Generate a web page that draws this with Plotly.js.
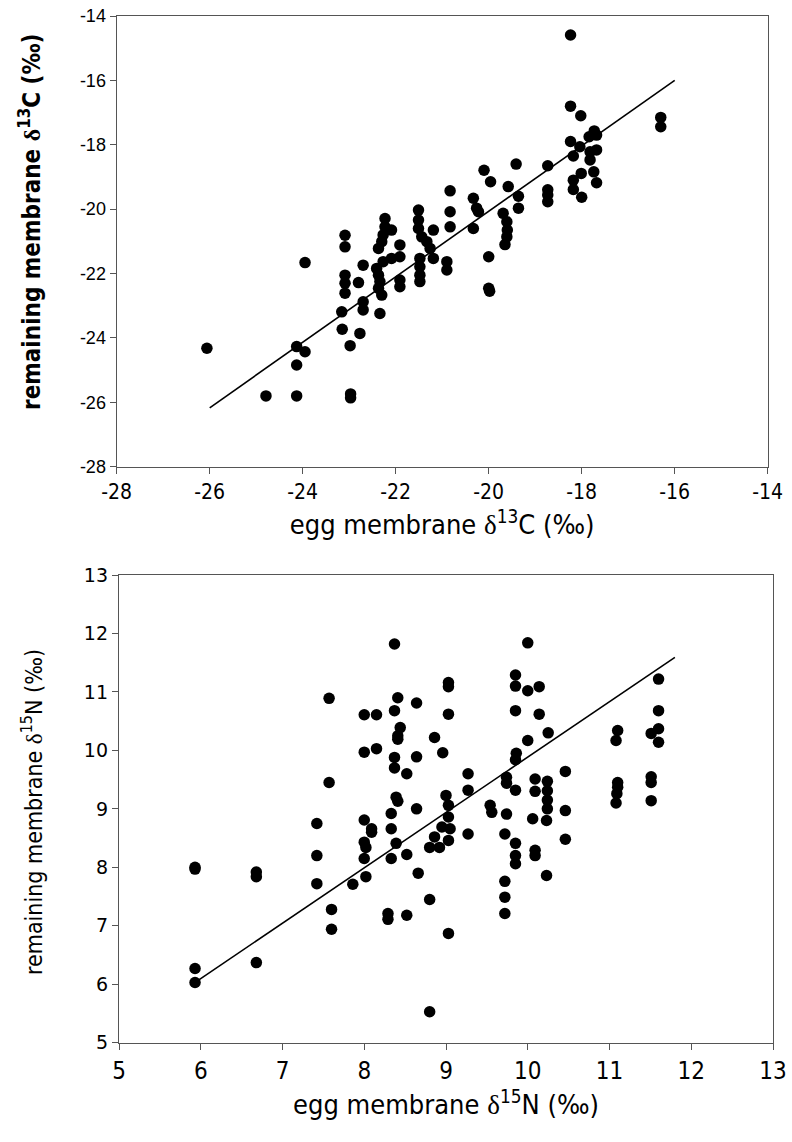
<!DOCTYPE html>
<html>
<head>
<meta charset="utf-8">
<script src="https://cdn.plot.ly/plotly-3.0.1.min.js"></script>
<style>html,body{margin:0;padding:0;background:#fff;}#chart{width:792px;height:1142px;}</style>
</head>
<body>
<div id="chart"></div>
<script>
// ---- Panel 1: delta 13C ----
const eggC = [-26.06,-24.79,-24.13,-24.13,-24.13,-23.95,-23.95,-23.09,-23.09,-23.09,-23.09,-23.09,-23.16,-23.15,-22.97,-22.97,-22.98,-22.77,-22.80,-22.70,-22.70,-22.70,-22.34,-22.37,-22.30,-22.34,-22.37,-22.41,-22.27,-22.09,-22.37,-22.30,-22.27,-22.09,-22.23,-22.23,-21.91,-21.91,-21.91,-21.91,-21.51,-21.51,-21.51,-21.44,-21.19,-21.33,-21.26,-21.48,-21.19,-21.48,-21.48,-21.48,-20.90,-20.90,-20.83,-20.83,-20.83,-20.33,-20.26,-20.22,-20.33,-20.00,-20.00,-19.98,-20.10,-19.96,-19.41,-19.58,-19.36,-19.36,-19.69,-19.61,-19.60,-19.61,-19.65,-18.73,-18.73,-18.73,-18.73,-18.24,-18.24,-18.02,-17.73,-17.84,-17.68,-18.24,-18.04,-18.18,-17.82,-17.68,-17.82,-18.01,-17.74,-17.68,-18.18,-18.18,-18.00,-16.30,-16.30];
const remC = [-24.32,-25.80,-25.80,-24.27,-24.84,-24.43,-21.66,-20.81,-21.17,-22.05,-22.30,-22.61,-23.19,-23.73,-25.74,-25.86,-24.24,-23.86,-22.28,-21.74,-22.88,-23.13,-23.24,-22.46,-22.67,-22.25,-22.05,-21.84,-21.63,-21.53,-21.22,-21.01,-20.80,-20.65,-20.55,-20.29,-21.11,-21.48,-22.20,-22.41,-20.03,-20.34,-20.60,-20.86,-20.65,-21.01,-21.22,-21.53,-21.53,-21.79,-22.05,-22.25,-21.63,-21.89,-20.08,-20.55,-19.43,-19.66,-19.97,-20.08,-20.60,-21.48,-22.46,-22.55,-18.79,-19.15,-18.60,-19.30,-19.60,-19.97,-20.13,-20.39,-20.65,-20.86,-21.10,-18.65,-19.40,-19.56,-19.77,-14.59,-16.80,-17.10,-17.57,-17.75,-17.70,-17.90,-18.06,-18.35,-18.22,-18.16,-18.47,-18.89,-18.84,-19.18,-19.10,-19.39,-19.63,-17.15,-17.44];
const fitC_x = [-26.0, -16.0];
const fitC_y = [-26.17, -16.0];
const ticksC = [-28,-26,-24,-22,-20,-18,-16,-14];

// ---- Panel 2: delta 15N ----
const eggN = [5.93,5.93,5.93,5.93,6.68,6.68,6.68,7.42,7.42,7.42,7.60,7.60,7.57,7.57,7.86,8.00,8.15,8.00,8.15,8.00,8.09,8.09,8.00,8.02,8.00,8.02,8.29,8.29,8.33,8.33,8.39,8.33,8.37,8.41,8.37,8.44,8.41,8.41,8.37,8.37,8.39,8.41,8.52,8.52,8.52,8.64,8.64,8.64,8.66,8.80,8.80,8.86,8.96,9.03,9.03,9.03,9.00,9.03,9.03,8.95,9.05,8.86,9.03,8.80,8.92,9.03,9.27,9.27,9.27,9.54,9.56,9.74,9.74,9.74,9.72,9.72,9.72,9.72,9.85,9.85,9.85,9.86,9.85,9.85,9.85,9.85,9.85,10.00,10.00,10.14,10.14,10.00,10.25,10.09,10.09,10.06,10.09,10.09,10.24,10.24,10.24,10.24,10.23,10.23,10.46,10.46,10.46,11.10,11.08,11.10,11.10,11.09,11.08,11.60,11.60,11.60,11.51,11.60,11.51,11.51,11.51];
const remN = [8.00,7.97,6.27,6.03,7.92,7.84,6.37,8.75,8.20,7.72,7.28,6.94,10.89,9.45,7.71,10.61,10.61,9.97,10.03,8.81,8.66,8.60,8.43,8.34,8.15,7.84,7.21,7.11,8.92,8.66,8.41,8.15,11.82,10.90,10.68,10.39,10.25,10.19,9.88,9.70,9.20,9.13,9.60,8.22,7.18,10.81,9.89,9.00,7.90,7.45,5.53,10.22,9.96,11.16,11.09,10.62,9.23,9.06,8.86,8.69,8.66,8.52,8.46,8.34,8.34,6.87,9.60,9.32,8.57,9.06,8.94,9.54,9.44,8.91,8.57,7.76,7.49,7.21,11.29,11.10,10.68,9.95,9.84,9.32,8.41,8.20,8.06,11.84,11.02,11.09,10.62,10.17,10.30,9.51,9.30,8.83,8.29,8.20,9.47,9.31,9.15,9.00,8.80,7.86,9.64,8.97,8.48,10.34,10.17,9.45,9.37,9.26,9.10,11.22,10.68,10.37,10.29,10.14,9.55,9.45,9.14];
const fitN_x = [5.95, 11.8];
const fitN_y = [6.05, 11.59];
const ticksN = [5,6,7,8,9,10,11,12,13];

const NARROW = 'Liberation Sans Narrow, Arial Narrow, DejaVu Sans Condensed, Liberation Sans, sans-serif';
const D = '<span style="font-family:Liberation Serif, serif">δ</span>';

const marker = {color:'#000', size:11.5, line:{width:0}};
const traces = [
  {x:eggC, y:remC, type:'scatter', mode:'markers', marker:marker, xaxis:'x', yaxis:'y'},
  {x:fitC_x, y:fitC_y, type:'scatter', mode:'lines', line:{color:'#000', width:1.6}, xaxis:'x', yaxis:'y'},
  {x:eggN, y:remN, type:'scatter', mode:'markers', marker:marker, xaxis:'x2', yaxis:'y2'},
  {x:fitN_x, y:fitN_y, type:'scatter', mode:'lines', line:{color:'#000', width:1.6}, xaxis:'x2', yaxis:'y2'}
];

const W = 792, H = 1142;
const axBase = {showline:true, mirror:true, linecolor:'#555', linewidth:1.2, ticks:'outside', ticklen:6, tickcolor:'#555', tickwidth:1, showgrid:false, zeroline:false, automargin:false, fixedrange:true};

const layout = {
  width:W, height:H, showlegend:false,
  paper_bgcolor:'#fff', plot_bgcolor:'#fff',
  margin:{l:0, r:0, t:0, b:0},
  xaxis: Object.assign({}, axBase, {
    domain:[116.7/W, 767.7/W], range:[-28,-14], tickvals:ticksC, ticktext:ticksC.map(String),
    anchor:'y',
    tickfont:{family:NARROW, size:21, color:'#000'},
    title:{text:'egg membrane '+D+'<sup>13</sup>C (‰)', font:{family:NARROW, size:27, color:'#000'}, standoff:12}
  }),
  yaxis: Object.assign({}, axBase, {
    domain:[1-466.7/H, 1-16/H], range:[-28,-14], tickvals:ticksC, ticktext:ticksC.map(String),
    anchor:'x',
    tickfont:{family:'Liberation Sans, Arial, sans-serif', size:18, color:'#000'}
  }),
  xaxis2: Object.assign({}, axBase, {
    domain:[119/W, 773/W], range:[5,13], tickvals:ticksN, ticktext:ticksN.map(String),
    anchor:'y2',
    tickfont:{family:NARROW, size:24, color:'#000'},
    title:{text:'egg membrane '+D+'<sup>15</sup>N (‰)', font:{family:NARROW, size:27, color:'#000'}, standoff:10}
  }),
  yaxis2: Object.assign({}, axBase, {
    domain:[1-1042.7/H, 1-575/H], range:[5,13], tickvals:ticksN, ticktext:ticksN.map(String),
    anchor:'x2',
    tickfont:{family:'DejaVu Sans, Verdana, sans-serif', size:19, color:'#000'}
  }),
  annotations:[
    {text:'<b>remaining membrane '+D+'<sup>13</sup>C (‰)</b>', xref:'paper', yref:'paper',
     x:30/W, y:1-222/H, xanchor:'center', yanchor:'middle', textangle:-90, showarrow:false,
     font:{family:NARROW, size:24, color:'#000'}},
    {text:'remaining membrane '+D+'<sup>15</sup>N (‰)', xref:'paper', yref:'paper',
     x:32/W, y:1-812/H, xanchor:'center', yanchor:'middle', textangle:-90, showarrow:false,
     font:{family:NARROW, size:23, color:'#000'}}
  ]
};

Plotly.newPlot('chart', traces, layout, {displayModeBar:false, staticPlot:true});
</script>
</body>
</html>
